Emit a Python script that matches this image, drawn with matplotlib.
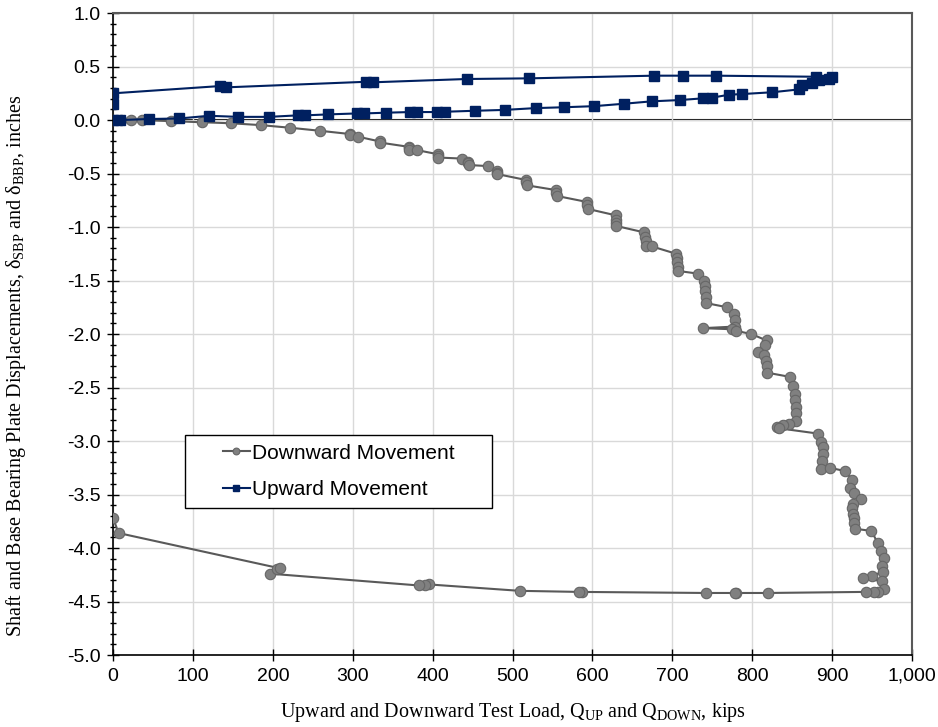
import matplotlib
matplotlib.use("Agg")
import matplotlib.pyplot as plt
from matplotlib.ticker import MultipleLocator, FuncFormatter
from matplotlib.patches import Rectangle

plt.rcParams['axes.unicode_minus'] = False
plt.rcParams['mathtext.fontset'] = 'custom'
plt.rcParams['mathtext.rm'] = 'Liberation Serif'

# Downward movement (load kips, displacement inches)
down_load = [0, 10, 22, 36, 73, 111, 148, 185, 222, 259, 296, 296, 307, 334, 334,
             370, 370, 370, 380, 407, 407, 407, 437, 444, 444, 445, 469, 480, 480, 481,
             517, 517, 518, 555, 555, 556, 593, 593, 594, 629, 629, 630, 630,
             665, 666, 667, 667, 674, 705, 706, 706, 707, 707, 732,
             740, 741, 741, 742, 742, 769, 777, 778, 778, 738, 775, 780,
             799, 818, 816, 807, 815, 817, 818, 818, 847, 851, 853, 854, 855, 855, 855,
             846, 838, 831, 833, 882, 886, 889, 888, 887, 886, 897, 916, 925, 923, 927,
             936, 926, 925, 926, 927, 928, 929, 949, 957, 961, 965, 962, 964, 950, 939,
             962, 965, 957, 953, 942, 820, 780, 778, 742, 587, 583, 509, 395, 391, 383,
             197, 205, 209, 7, 0]
down_disp = [0.0, 0.0, 0.0, 0.0, -0.01, -0.02, -0.03, -0.047, -0.072, -0.10, -0.13, -0.143, -0.156, -0.20, -0.21,
             -0.25, -0.265, -0.28, -0.28, -0.32, -0.334, -0.35, -0.36, -0.39, -0.405, -0.42, -0.43, -0.475, -0.49, -0.505,
             -0.56, -0.58, -0.61, -0.655, -0.68, -0.71, -0.765, -0.79, -0.83, -0.89, -0.93, -0.96, -0.99,
             -1.05, -1.09, -1.13, -1.18, -1.18, -1.25, -1.29, -1.33, -1.37, -1.41, -1.435,
             -1.50, -1.55, -1.60, -1.65, -1.71, -1.75, -1.81, -1.87, -1.93, -1.945, -1.955, -1.97,
             -2.0, -2.06, -2.10, -2.17, -2.20, -2.25, -2.30, -2.36, -2.40, -2.49, -2.56, -2.62, -2.68, -2.74, -2.81,
             -2.84, -2.85, -2.87, -2.88, -2.93, -3.01, -3.06, -3.12, -3.19, -3.26, -3.25, -3.28, -3.36, -3.44, -3.49,
             -3.54, -3.59, -3.63, -3.68, -3.72, -3.77, -3.82, -3.84, -3.95, -4.03, -4.09, -4.17, -4.22, -4.26, -4.28,
             -4.31, -4.38, -4.41, -4.41, -4.41, -4.42, -4.42, -4.42, -4.42, -4.41, -4.41, -4.40, -4.34, -4.35, -4.35,
             -4.24, -4.20, -4.19, -3.86, -3.72]

# Upward movement
up_load = [0, 9, 45, 83, 120, 157, 195, 231, 240, 269, 305, 314, 342, 372, 380, 405, 416, 453,
           490, 529, 565, 602, 640, 674, 709, 738, 750, 771, 787, 825, 859, 862, 875, 884, 896, 900,
           880, 755, 713, 677, 521, 443, 325, 317, 142, 134, 0, 0]
up_disp = [0.0, 0.0, 0.01, 0.015, 0.04, 0.03, 0.03, 0.044, 0.044, 0.053, 0.062, 0.062, 0.069, 0.075, 0.075, 0.075, 0.078, 0.087,
           0.095, 0.112, 0.12, 0.13, 0.153, 0.175, 0.187, 0.203, 0.21, 0.237, 0.243, 0.26, 0.287, 0.33, 0.35, 0.375, 0.38, 0.40,
           0.405, 0.415, 0.415, 0.415, 0.39, 0.384, 0.353, 0.358, 0.306, 0.318, 0.25, 0.147]

fig = plt.figure(figsize=(9.38, 7.27), dpi=100)
ax = fig.add_axes([0.1205, 0.099, 0.8518, 0.883])

ax.grid(True, which='major', color='#d9d9d9', linewidth=1.0, zorder=0)
ax.axhline(0, color='black', linewidth=1.5, zorder=1)

ax.plot(down_load, down_disp, color='#595959', linewidth=1.5, marker='o', markersize=7.5,
        markerfacecolor='#808080', markeredgecolor='#666666', markeredgewidth=0.8,
        label='Downward Movement', zorder=3)
ax.plot(up_load, up_disp, color='#002060', linewidth=1.5, marker='s', markersize=7,
        markerfacecolor='#002060', markeredgecolor='#002060',
        label='Upward Movement', zorder=4)

ax.set_xlim(0, 1000)
ax.set_ylim(-5.0, 1.0)
ax.xaxis.set_major_locator(MultipleLocator(100))
ax.yaxis.set_major_locator(MultipleLocator(0.5))
ax.yaxis.set_minor_locator(MultipleLocator(0.1))
ax.xaxis.set_major_formatter(FuncFormatter(lambda v, p: f"{int(round(v)):,}"))
ax.yaxis.set_major_formatter(FuncFormatter(lambda v, p: f"{v:.1f}"))

ax.tick_params(axis='both', which='major', labelsize=14, direction='inout', length=8, width=1, color='black')
ax.tick_params(axis='y', which='minor', direction='inout', length=4, width=1)
ax.tick_params(axis='x', which='major', pad=5)
ax.tick_params(axis='y', which='major', pad=5)
for lab in ax.get_xticklabels() + ax.get_yticklabels():
    lab.set_family('Liberation Sans')

for s in ['left', 'bottom']:
    ax.spines[s].set_color('black')
    ax.spines[s].set_linewidth(1.2)
for s in ['top', 'right']:
    ax.spines[s].set_color('#595959')
    ax.spines[s].set_linewidth(1.5)

ax.set_xlabel(r'Upward and Downward Test Load, Q$_{\mathrm{UP}}$ and Q$_{\mathrm{DOWN}}$, kips',
              family='Liberation Serif', fontsize=14.5, labelpad=12)
ax.set_ylabel(r'Shaft and Base Bearing Plate Displacements, δ$_{\mathrm{SBP}}$ and δ$_{\mathrm{BBP}}$, inches',
              family='Liberation Serif', fontsize=14.5)
ax.yaxis.set_label_coords(-0.106, 0.45)

# legend box drawn as its own frame, legend content centred in it
x0, x1, yb, yt = 0.0901, 0.4743, 0.229, 0.3427
ax.add_patch(Rectangle((x0, yb), x1 - x0, yt - yb, transform=ax.transAxes,
                       facecolor='white', edgecolor='black', linewidth=1.0, zorder=5))
leg = ax.legend(loc='center', bbox_to_anchor=((x0 + x1) / 2, (yb + yt) / 2), frameon=False,
                prop={'family': 'Liberation Sans', 'size': 15},
                handlelength=1.3, handletextpad=0.1, markerscale=0.65, borderpad=0,
                labelspacing=0.85, borderaxespad=0)
leg.set_zorder(6)

fig.savefig('out.png', dpi=100)
